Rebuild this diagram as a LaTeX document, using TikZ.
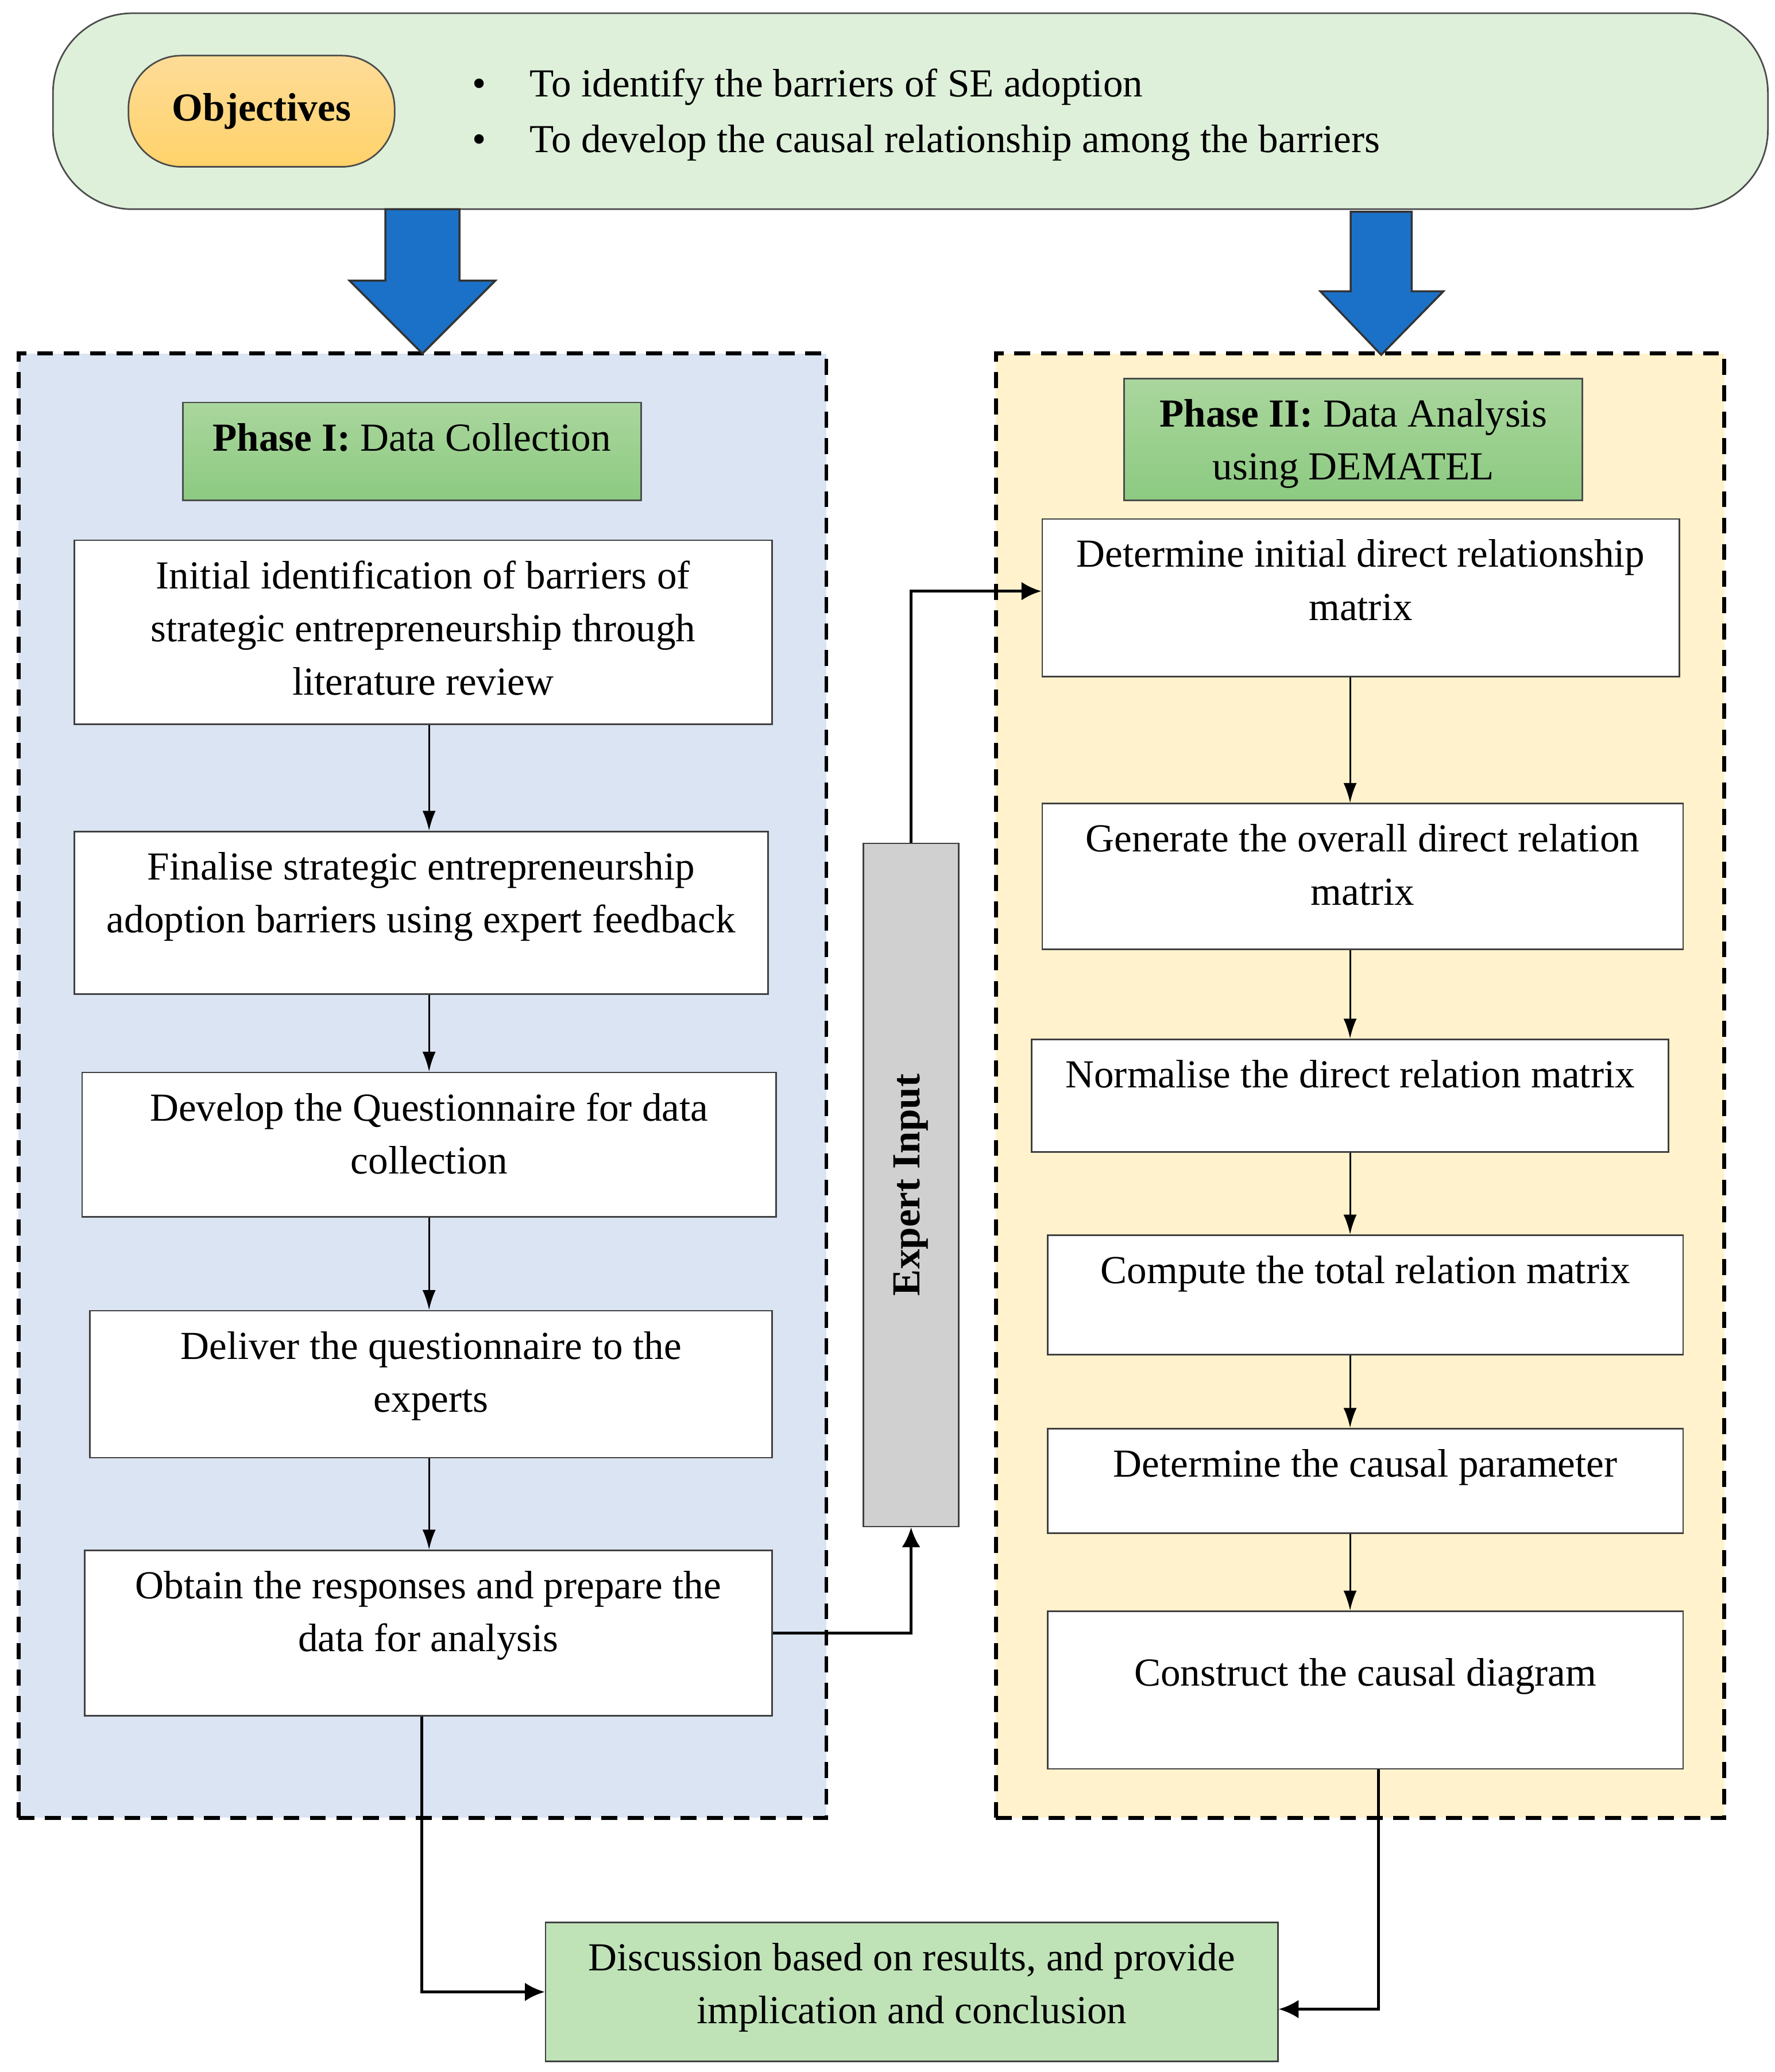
\documentclass[tikz,border=0pt]{standalone}
\usepackage{fontspec}
\setmainfont{Liberation Serif}
\usepackage{graphicx}
\usetikzlibrary{arrows.meta}

\definecolor{objverde}{HTML}{DEF0DA}
\definecolor{objlaranja}{HTML}{FDDC98}
\definecolor{objlaranjab}{HTML}{FFD26A}
\definecolor{faseverde}{HTML}{AAD69D}
\definecolor{faseverdeb}{HTML}{8CCA81}
\definecolor{conclverde}{HTML}{BFE3B7}
\definecolor{painelazul}{HTML}{DAE4F3}
\definecolor{painelamarelo}{HTML}{FFF2CC}
\definecolor{setaazul}{HTML}{1B71C8}
\definecolor{cinza}{HTML}{D0D0D0}

\begin{document}
\begin{tikzpicture}[x=1pt, y=-1pt, font=\fontsize{30}{40}\selectfont,
    caixa/.style={draw=black!75, line width=1.2pt, fill=white, inner sep=0pt},
    titulo/.style={draw=black!70, line width=1.2pt, top color=faseverde, bottom color=faseverdeb, inner sep=0pt},
    texto/.style={align=center, inner sep=2pt, below=14pt},
    painel/.style={draw=black, line width=3pt, dash pattern=on 12pt off 8pt, inner sep=0pt},
    fluxo/.style={line width=1.3pt, -{Latex[length=15pt, width=10pt]}},
    rota/.style={line width=2.2pt, -{Latex[length=15pt, width=14pt]}},
    setabloco/.style={draw=black!80, line width=1.5pt, fill=setaazul}]
    \useasboundingbox (0,0) rectangle (1340,1565);

    % Objetivos
    \node[draw=black!70, line width=1.2pt, fill=objverde, rounded corners=60pt, minimum width=1295pt, minimum height=148pt] (topo) at (687.5,84) {};
    \node[draw=black!70, line width=1.2pt, top color=objlaranja, bottom color=objlaranjab, rounded corners=40pt, minimum width=201pt, minimum height=84pt, font=\fontsize{30}{40}\selectfont\bfseries] (obj) at (197.5,84) {Objectives};
    \node[anchor=base, inner sep=0pt] (b1) at (362,73) {\textbullet};
    \node[anchor=base west, inner sep=0pt] (obj1) at (400,73) {To identify the barriers of SE adoption};
    \node[anchor=base, inner sep=0pt] (b2) at (362,115) {\textbullet};
    \node[anchor=base west, inner sep=0pt] (obj2) at (400,115) {To develop the causal relationship among the barriers};

    % Paineis das fases
    \node[painel, fill=painelazul, minimum width=610pt, minimum height=1106pt] (fase1) at (319,820) {};
    \node[painel, fill=painelamarelo, minimum width=550pt, minimum height=1106pt] (fase2) at (1027,820) {};

    % Setas azuis
    \draw[setabloco] (291,158) -- (347,158) -- (347,212) -- (374,212) -- (319,267) -- (264,212) -- (291,212) -- cycle;
    \draw[setabloco] (1020,160) -- (1066,160) -- (1066,220) -- (1090,220) -- (1043,268) -- (997,220) -- (1020,220) -- cycle;

    % Fase I
    \node[titulo, minimum width=346pt, minimum height=74pt, label={[texto]north:{\textbf{Phase I:} Data Collection}}] (titulo1) at (311,341) {};
    \node[caixa, minimum width=527pt, minimum height=139pt, label={[texto]north:{Initial identification of barriers of\\strategic entrepreneurship through\\literature review}}] (s1) at (319.5,477.5) {};
    \node[caixa, minimum width=524pt, minimum height=123pt, label={[texto]north:{Finalise strategic entrepreneurship\\adoption barriers using expert feedback}}] (s2) at (318,689.5) {};
    \node[caixa, minimum width=524pt, minimum height=109pt, label={[texto]north:{Develop the Questionnaire for data\\collection}}] (s3) at (324,864.5) {};
    \node[caixa, minimum width=515pt, minimum height=111pt, label={[texto]north:{Deliver the questionnaire to the\\experts}}] (s4) at (325.5,1045.5) {};
    \node[caixa, minimum width=519pt, minimum height=125pt, label={[texto]north:{Obtain the responses and prepare the\\data for analysis}}] (s5) at (323.5,1233.5) {};

    % Fase II
    \node[titulo, minimum width=346pt, minimum height=92pt, label={[texto]north:{\textbf{Phase II:} Data Analysis\\using DEMATEL}}] (titulo2) at (1022,332) {};
    \node[caixa, minimum width=481pt, minimum height=119pt, label={[texto]north:{Determine initial direct relationship\\matrix}}] (r1) at (1027.5,451.5) {};
    \node[caixa, minimum width=484pt, minimum height=110pt, label={[texto]north:{Generate the overall direct relation\\matrix}}] (r2) at (1029,662) {};
    \node[caixa, minimum width=481pt, minimum height=85pt, label={[texto]north:{Normalise the direct relation matrix}}] (r3) at (1019.5,827.5) {};
    \node[caixa, minimum width=480pt, minimum height=90pt, label={[texto]north:{Compute the total relation matrix}}] (r4) at (1031,978) {};
    \node[caixa, minimum width=480pt, minimum height=79pt, label={[texto]north:{Determine the causal parameter}}] (r5) at (1031,1118.5) {};
    \node[caixa, minimum width=480pt, minimum height=119pt, label={[texto, below=20pt]north:{Construct the causal diagram}}] (r6) at (1031,1276.5) {};

    % Especialistas e conclusao
    \node[caixa, fill=cinza, minimum width=72pt, minimum height=516pt] (especialista) at (688,895) {\rotatebox{90}{\textbf{Expert Input}}};
    \node[caixa, fill=conclverde, minimum width=553pt, minimum height=105pt, label={[texto]north:{Discussion based on results, and provide\\implication and conclusion}}] (concl) at (688.5,1504.5) {};

    % Conexoes
    \draw[fluxo] (s1.south -| s3) -- (s2.north -| s3);
    \draw[fluxo] (s2.south -| s3) -- (s3.north);
    \draw[fluxo] (s3.south) -- (s4.north -| s3);
    \draw[fluxo] (s4.south -| s3) -- (s5.north -| s3);
    \draw[fluxo] (r1.south -| r3) -- (r2.north -| r3);
    \draw[fluxo] (r2.south -| r3) -- (r3.north);
    \draw[fluxo] (r3.south) -- (r4.north -| r3);
    \draw[fluxo] (r4.south -| r3) -- (r5.north -| r3);
    \draw[fluxo] (r5.south -| r3) -- (r6.north -| r3);
    \draw[rota] (s5.east) -| (especialista.south); % entrada dos especialistas
    \draw[rota] (especialista.north) |- ([yshift=5pt]r1.west);
    \draw[rota] ([xshift=-5pt]s5.south) |- (concl.west);
    \draw[rota] ([xshift=10pt]r6.south) |- ([yshift=-13pt]concl.east);
\end{tikzpicture}
\end{document}
